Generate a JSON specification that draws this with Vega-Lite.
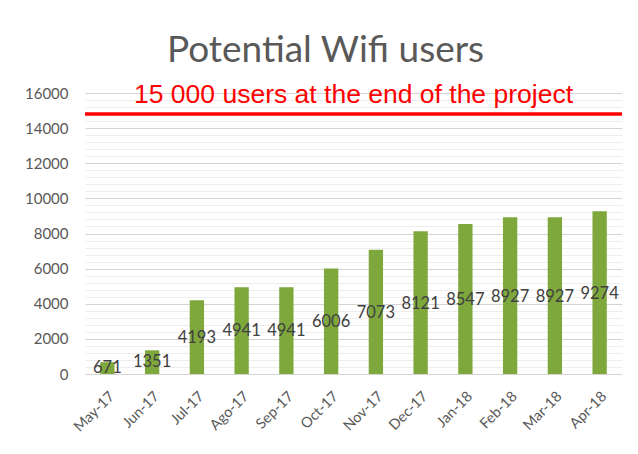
{
  "$schema": "https://vega.github.io/schema/vega-lite/v6.json",
  "autosize": {"type": "none"},
  "width": 537,
  "height": 281,
  "padding": {"left": 85, "top": 93, "right": 16, "bottom": 80},
  "background": "white",
  "title": {
    "text": "Potential Wifi users",
    "anchor": "middle",
    "frame": "group",
    "dx": -28,
    "offset": 12,
    "font": "Lato",
    "fontSize": 37,
    "fontWeight": "normal",
    "color": "#595959"
  },
  "config": {
    "view": {"stroke": null},
    "axis": {"labelFont": "Lato", "labelColor": "#595959", "labelFontSize": 15}
  },
  "datasets": {
    "users": [
      {"month": "May-17", "users": 671},
      {"month": "Jun-17", "users": 1351},
      {"month": "Jul-17", "users": 4193},
      {"month": "Ago-17", "users": 4941},
      {"month": "Sep-17", "users": 4941},
      {"month": "Oct-17", "users": 6006},
      {"month": "Nov-17", "users": 7073},
      {"month": "Dec-17", "users": 8121},
      {"month": "Jan-18", "users": 8547},
      {"month": "Feb-18", "users": 8927},
      {"month": "Mar-18", "users": 8927},
      {"month": "Apr-18", "users": 9274}
    ],
    "target": [
      {"users": 14800, "label": "15 000 users at the end of the project"}
    ]
  },
  "layer": [
    {
      "data": {"name": "users"},
      "mark": {"type": "bar", "color": "#7ea83c"},
      "encoding": {
        "x": {
          "field": "month",
          "type": "nominal",
          "sort": null,
          "scale": {"paddingInner": 0.68, "paddingOuter": 0.34},
          "axis": {
            "title": null,
            "labelAngle": -45,
            "ticks": false,
            "domain": false,
            "labelPadding": 15,
            "labelFontSize": 14.5
          }
        },
        "y": {
          "field": "users",
          "type": "quantitative",
          "scale": {"domain": [0, 16000], "nice": false},
          "axis": {
            "title": null,
            "values": [0,400,800,1200,1600,2000,2400,2800,3200,3600,4000,4400,4800,5200,5600,6000,6400,6800,7200,7600,8000,8400,8800,9200,9600,10000,10400,10800,11200,11600,12000,12400,12800,13200,13600,14000,14400,14800,15200,15600,16000],
            "labelExpr": "datum.value % 2000 === 0 ? datum.value : ''",
            "gridColor": {"condition": {"test": "datum.value % 2000 === 0", "value": "#d4d4d4"}, "value": "#ededed"},
            "gridWidth": 1,
            "ticks": false,
            "domain": false,
            "labelFontSize": 15,
            "labelColor": "#595959",
            "labelFont": "Lato",
            "labelPadding": 17
          }
        }
      }
    },
    {
      "data": {"name": "users"},
      "mark": {"type": "text", "font": "Lato", "fontSize": 16.5, "color": "#404040", "baseline": "middle"},
      "encoding": {
        "x": {"field": "month", "type": "nominal", "sort": null},
        "y": {
          "field": "users",
          "type": "quantitative",
          "scale": {"domain": [0, 32450], "nice": false},
          "axis": null
        },
        "text": {"field": "users", "type": "quantitative", "format": "d"}
      }
    },
    {
      "data": {"name": "target"},
      "mark": {"type": "rule", "color": "#ff0000", "strokeWidth": 3.5},
      "encoding": {
        "y": {"field": "users", "type": "quantitative", "scale": {"domain": [0, 16000], "nice": false}, "axis": null}
      }
    },
    {
      "data": {"name": "target"},
      "mark": {"type": "text", "font": "Liberation Sans", "fontSize": 26.5, "color": "#ff0000", "align": "center", "baseline": "alphabetic", "dy": -11, "x": {"expr": "width/2"}},
      "encoding": {
        "y": {"field": "users", "type": "quantitative", "scale": {"domain": [0, 16000], "nice": false}, "axis": null},
        "text": {"field": "label"}
      }
    }
  ],
  "resolve": {"scale": {"y": "independent"}}
}
